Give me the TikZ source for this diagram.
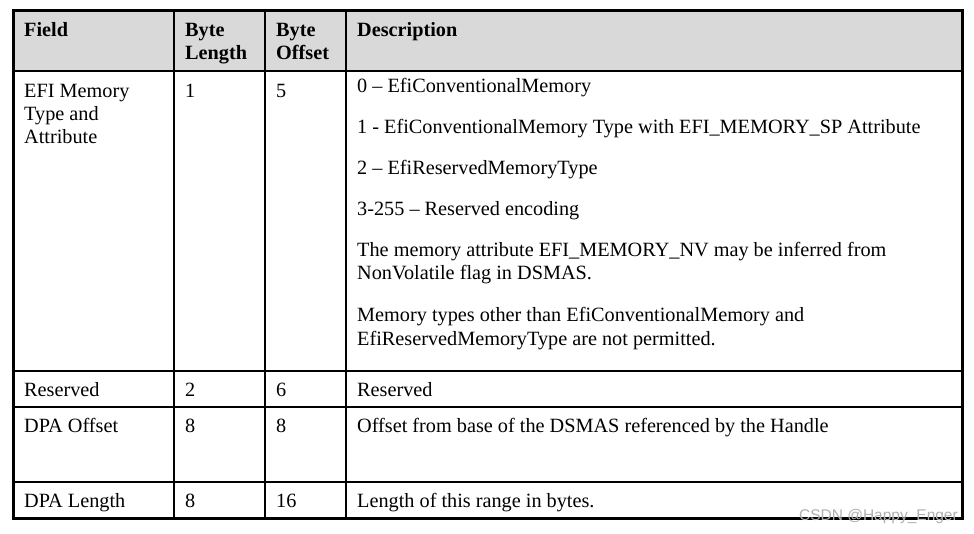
\documentclass[tikz,border=0pt]{standalone}
\usepackage{fontspec}
\setmainfont{Liberation Serif}
\newfontfamily\wmfont{Liberation Sans}
\definecolor{headgray}{HTML}{D9D9D9}
\definecolor{wmgray}{HTML}{B0B0B0}
\begin{document}
\begin{tikzpicture}[x=1pt,y=-1pt,
  cell/.style={anchor=base west,inner sep=0pt,font=\fontsize{20.25}{23}\selectfont},
  head/.style={cell,font=\fontsize{20.25}{23}\selectfont\bfseries},
  inner line/.style={line width=2pt,black},
  outer line/.style={line width=3pt,black}]
\useasboundingbox (0,0) rectangle (974,534);
\fill[white] (0,0) rectangle (974,534);
% header shading
\fill[headgray] (13,10.5) rectangle (962,71);
% grid
\draw[inner line] (13,71) -- (962,71);
\draw[inner line] (13,370.5) -- (962,370.5);
\draw[inner line] (13,406.5) -- (962,406.5);
\draw[inner line] (13,482) -- (962,482);
\draw[inner line] (174,10.5) -- (174,518.5);
\draw[inner line] (265,10.5) -- (265,518.5);
\draw[inner line] (346,10.5) -- (346,518.5);
\draw[outer line] (13,10.5) rectangle (962,518.5);
% header
\node[head] (hField) at (24,37) {Field};
\node[head] (hLen1) at (185,37) {Byte};
\node[head] (hLen2) at (185,60) {Length};
\node[head] (hOff1) at (276,37) {Byte};
\node[head] (hOff2) at (276,60) {Offset};
\node[head] (hDesc) at (357,37) {Description};
% row 1
\node[cell] (f1a) at (24,98) {EFI Memory};
\node[cell] (f1b) at (24,121) {Type and};
\node[cell] (f1c) at (24,144) {Attribute};
\node[cell] (l1) at (185,98) {1};
\node[cell] (o1) at (276,98) {5};
\node[cell] (d1a) at (357,93) {0 – EfiConventionalMemory};
\node[cell] (d1b) at (357,134) {1 - EfiConventionalMemory Type with EFI\_MEMORY\_SP Attribute};
\node[cell] (d1c) at (357,175) {2 – EfiReservedMemoryType};
\node[cell] (d1d) at (357,215.5) {3-255 – Reserved encoding};
\node[cell] (d1e) at (357,256.5) {The memory attribute EFI\_MEMORY\_NV may be inferred from};
\node[cell] (d1f) at (357,279.5) {NonVolatile flag in DSMAS.};
\node[cell] (d1g) at (357,322) {Memory types other than EfiConventionalMemory and};
\node[cell] (d1h) at (357,345) {EfiReservedMemoryType are not permitted.};
% row 2
\node[cell] (f2) at (24,396.5) {Reserved};
\node[cell] (l2) at (185,396.5) {2};
\node[cell] (o2) at (276,396.5) {6};
\node[cell] (d2) at (357,396.5) {Reserved};
% row 3
\node[cell] (f3) at (24,432) {DPA Offset};
\node[cell] (l3) at (185,432) {8};
\node[cell] (o3) at (276,432) {8};
\node[cell] (d3) at (357,432) {Offset from base of the DSMAS referenced by the Handle};
% row 4
\node[cell] (f4) at (24,507) {DPA Length};
\node[cell] (l4) at (185,507) {8};
\node[cell] (o4) at (276,507) {16};
\node[cell] (d4) at (357,507) {Length of this range in bytes.};
% watermark
\node[anchor=base east,inner sep=0pt,text=wmgray,font=\wmfont\fontsize{15.5}{18}\selectfont] (wm) at (958,520) {CSDN @Happy\_Enger};
\end{tikzpicture}
\end{document}
